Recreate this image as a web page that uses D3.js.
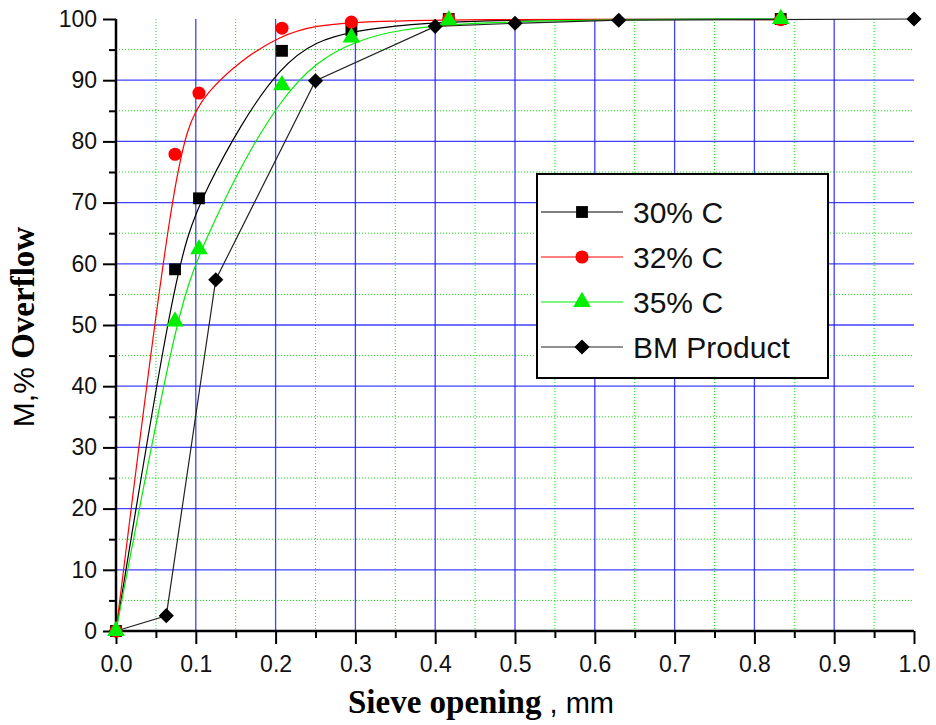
<!DOCTYPE html>
<html>
<head>
<meta charset="utf-8">
<script src="https://cdn.jsdelivr.net/npm/d3@7"></script>
<style>
  body { margin: 0; background: #fff; }
  svg { display: block; }
</style>
</head>
<body>
<script>
// Sieve data
const seriesNames = ['30% C', '32% C', '35% C', 'BM Product'];
const sieveC = [0, 0.074, 0.104, 0.208, 0.295, 0.417, 0.833];
const c30 = [0, 59.1, 70.7, 94.8, 98.2, 100, 100];
const c32 = [0, 77.9, 87.9, 98.5, 99.5, 100, 99.9];
const c35 = [0, 50.6, 62.4, 89.2, 97.0, 99.8, 100];
const sieveBM = [0, 0.063, 0.125, 0.25, 0.4, 0.5, 0.63, 1.0];
const bm = [0, 2.5, 57.4, 89.9, 98.8, 99.3, 99.8, 100];
const xTicks = [0, 0.1, 0.2, 0.3, 0.4, 0.5, 0.6, 0.7, 0.8, 0.9, 1.0];
const yTicks = [0, 10, 20, 30, 40, 50, 60, 70, 80, 90, 100];

const width = 936, height = 725;
const svg = d3.select('body').append('svg')
  .attr('width', width)
  .attr('height', height);

const x = d3.scaleLinear().domain([0, 1]).range([116, 914]);
const y = d3.scaleLinear().domain([0, 100]).range([631, 19]);

const grid = svg.append('g');

// minor grid, green dotted
const xMinor = d3.range(0.05, 1, 0.1);
const yMinor = d3.range(5, 100, 10);
grid.selectAll('.vmin').data(xMinor).join('line')
  .attr('x1', d => x(d)).attr('x2', d => x(d))
  .attr('y1', y(100)).attr('y2', y(0))
  .attr('stroke', '#00ee00').attr('stroke-width', 1)
  .attr('stroke-dasharray', '1,2');
grid.selectAll('.hmin').data(yMinor).join('line')
  .attr('x1', x(0)).attr('x2', x(1))
  .attr('y1', d => y(d)).attr('y2', d => y(d))
  .attr('stroke', '#00ee00').attr('stroke-width', 1)
  .attr('stroke-dasharray', '1,2');

// major grid, blue
grid.selectAll('.vmaj').data(xTicks.slice(1, -1)).join('line')
  .attr('x1', d => x(d)).attr('x2', d => x(d))
  .attr('y1', y(100)).attr('y2', y(0))
  .attr('stroke', '#1f1fff').attr('stroke-width', 1.3).attr('stroke-opacity', 0.85);
grid.selectAll('.hmaj').data(yTicks.slice(1, -1)).join('line')
  .attr('x1', x(0)).attr('x2', x(1))
  .attr('y1', d => y(d)).attr('y2', d => y(d))
  .attr('stroke', '#1f1fff').attr('stroke-width', 1.3).attr('stroke-opacity', 0.85);

// axes
const xAxis = svg.append('g')
  .attr('transform', `translate(0,${y(0)})`)
  .call(d3.axisBottom(x).tickValues(xTicks).tickFormat(d3.format('.1f')).tickSize(13).tickPadding(12));
const xAxisMinor = svg.append('g')
  .attr('transform', `translate(0,${y(0)})`)
  .call(d3.axisBottom(x).tickValues(xMinor).tickFormat('').tickSize(7));
const yAxis = svg.append('g')
  .attr('transform', `translate(${x(0)},0)`)
  .call(d3.axisLeft(y).tickValues(yTicks).tickSize(13).tickPadding(6));
const yAxisMinor = svg.append('g')
  .attr('transform', `translate(${x(0)},0)`)
  .call(d3.axisLeft(y).tickValues(yMinor).tickFormat('').tickSize(7));

[xAxis, xAxisMinor, yAxis, yAxisMinor].forEach(g => {
  g.select('.domain').attr('stroke', '#000').attr('stroke-width', 2.5);
  g.selectAll('.tick line').attr('stroke', '#000').attr('stroke-width', 2);
  g.selectAll('.tick text')
    .attr('font-family', 'Liberation Sans, Arial, sans-serif')
    .attr('font-size', 23).attr('fill', '#111');
});
xAxis.select('.domain').attr('d', `M${x(0)},0H${x(1)}`);
xAxisMinor.select('.domain').remove();
yAxis.select('.domain').attr('d', `M0,${y(0)}V${y(100)}`);
yAxisMinor.select('.domain').remove();

// lines
const series = [
  { name: seriesNames[0], xs: sieveC, ys: c30, color: '#000000', shape: d3.symbolSquare, size: 140, rot: 0, curve: d3.curveBasis },
  { name: seriesNames[1], xs: sieveC, ys: c32, color: '#ff0000', shape: d3.symbolCircle, size: 135, rot: 0, curve: d3.curveBasis },
  { name: seriesNames[2], xs: sieveC, ys: c35, color: '#00ee00', shape: d3.symbolTriangle, size: 135, rot: 0, curve: d3.curveBasis },
  { name: seriesNames[3], xs: sieveBM, ys: bm, color: '#000000', shape: d3.symbolSquare, size: 115, rot: 45, curve: d3.curveLinear, lineColor: '#222' }
];

const line = d3.line().x(d => x(d[0])).y(d => y(d[1]));

series.forEach(s => {
  const pts = s.xs.map((v, i) => [v, s.ys[i]]);
  svg.append('path')
    .datum(pts)
    .attr('d', line.curve(s.curve))
    .attr('fill', 'none')
    .attr('stroke', s.lineColor || s.color)
    .attr('stroke-width', 1.2);
});

const drawOrder = [3, 0, 1, 2];
drawOrder.forEach(k => {
  const s = series[k];
  const pts = s.xs.map((v, i) => [v, s.ys[i]]);
  svg.append('g').selectAll('path').data(pts).join('path')
    .attr('transform', d => `translate(${x(d[0])},${y(d[1])}) rotate(${s.rot})`)
    .attr('d', d3.symbol().type(s.shape).size(s.size))
    .attr('fill', s.color);
});

// legend
const lg = svg.append('g');
lg.append('rect')
  .attr('x', 537).attr('y', 174).attr('width', 291).attr('height', 204)
  .attr('fill', '#fff').attr('stroke', '#000').attr('stroke-width', 2);
const rowY = [212, 257, 302, 347];
series.forEach((s, i) => {
  lg.append('line')
    .attr('x1', 541).attr('x2', 623)
    .attr('y1', rowY[i]).attr('y2', rowY[i])
    .attr('stroke', s.lineColor || s.color).attr('stroke-width', 1.2);
  lg.append('path')
    .attr('transform', `translate(582,${rowY[i]}) rotate(${s.rot})`)
    .attr('d', d3.symbol().type(s.shape).size(s.size))
    .attr('fill', s.color);
  lg.append('text')
    .attr('x', 633).attr('y', rowY[i] + 11)
    .attr('font-family', 'Liberation Sans, Arial, sans-serif')
    .attr('font-size', 30).attr('fill', '#111')
    .text(s.name);
});

// axis titles
const xt = svg.append('text')
  .attr('x', 481).attr('y', 713)
  .attr('text-anchor', 'middle');
xt.append('tspan')
  .attr('font-family', 'Liberation Serif, Times New Roman, serif')
  .attr('font-weight', 'bold').attr('font-size', 33)
  .text('Sieve opening');
xt.append('tspan')
  .attr('font-family', 'Liberation Sans, Arial, sans-serif')
  .attr('font-size', 29)
  .text(' , mm');

const yt = svg.append('text')
  .attr('transform', 'translate(34,327) rotate(-90)')
  .attr('text-anchor', 'middle');
yt.append('tspan')
  .attr('font-family', 'Liberation Sans, Arial, sans-serif')
  .attr('font-size', 30)
  .text('M,% ');
yt.append('tspan')
  .attr('font-family', 'Liberation Serif, Times New Roman, serif')
  .attr('font-weight', 'bold').attr('font-size', 33)
  .text('Overflow');
</script>
</body>
</html>
